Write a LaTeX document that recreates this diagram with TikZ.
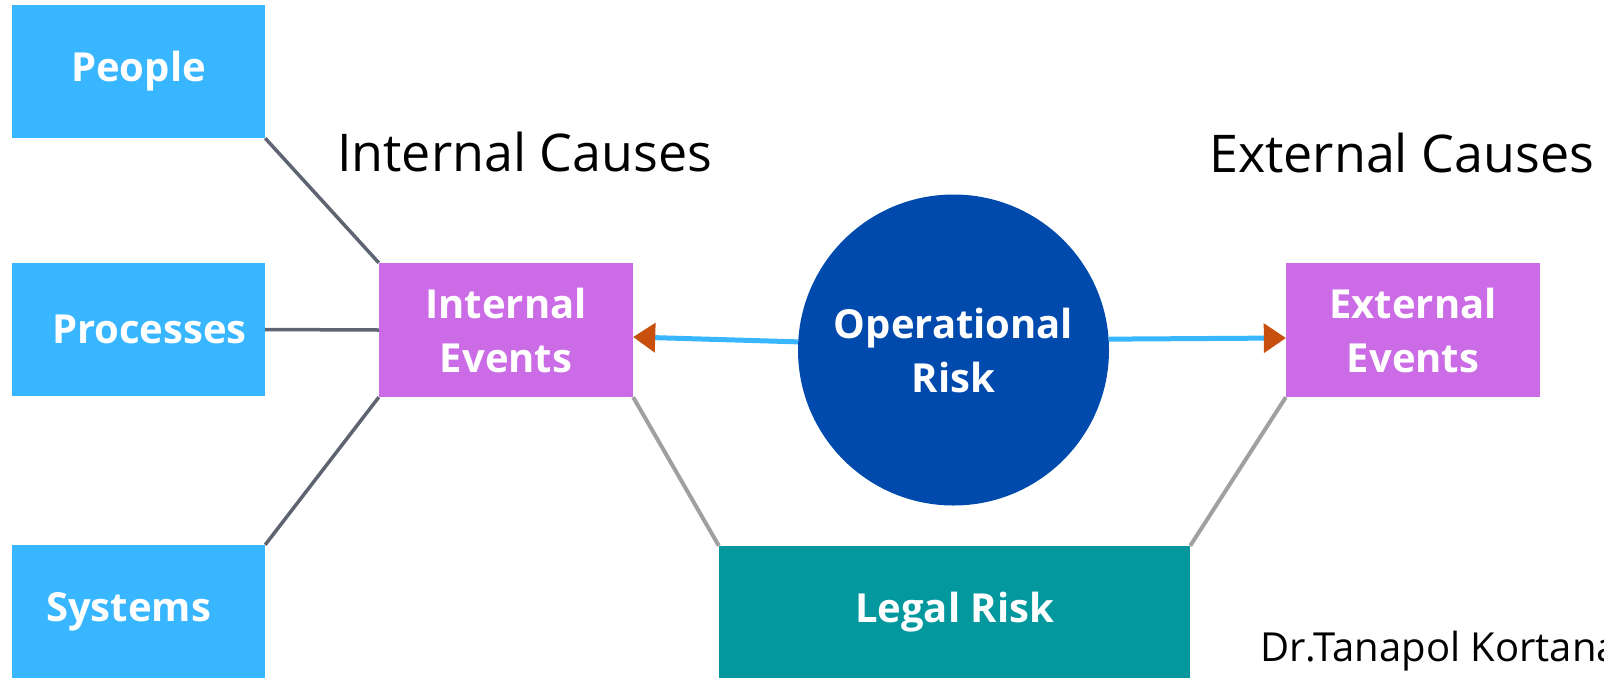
\documentclass[tikz,border=0pt]{standalone}
\usepackage{fontspec}
\setmainfont{Open Sans}
\usetikzlibrary{arrows.meta}
\definecolor{boxblue}{HTML}{38B6FF}
\definecolor{evpurple}{HTML}{CB6CE6}
\definecolor{risknavy}{HTML}{004AAD}
\definecolor{legalteal}{HTML}{03989E}
\definecolor{tipred}{HTML}{C8500F}
\definecolor{darkline}{HTML}{5E6472}
\definecolor{lightline}{HTML}{A0A0A0}
\begin{document}
\begin{tikzpicture}[x=1pt, y=-1pt, line join=round,
		>={Triangle[length=22pt, width=30pt, line width=0pt, color=tipred]},
		box/.style={rectangle, inner sep=0pt, text=white, font=\fontsize{40}{54}\selectfont\bfseries, align=center},
		causebox/.style={box, fill=boxblue, minimum width=253pt, minimum height=133pt},
		evbox/.style={box, fill=evpurple, minimum width=254pt, minimum height=134pt},
		heading/.style={anchor=base west, inner sep=0pt, font=\fontsize{52}{60}\selectfont},
		causeline/.style={darkline, line width=3.5pt},
		legalline/.style={lightline, line width=4pt},
		riskarrow/.style={->, boxblue, line width=5pt}]
			\useasboundingbox (0,0) rectangle (1604,681);
			\foreach \n/\y/\t/\dx in {people/71.5/People/0, proc/329.5/Processes/11, sys/611.5/Systems/-10}
			\node[causebox, label={[box, xshift=\dx pt]center:\t}] (\n) at (138.5,\y) {};
			\node[evbox] (intev) at (506,330) {Internal\\Events};
			\node[evbox] (extev) at (1413,330) {External\\Events};
			\node[box, circle, fill=risknavy, minimum size=311pt] (risk) at (953.5,350) {Operational\\Risk};
			\node[box, fill=legalteal, minimum width=471pt, minimum height=132pt] (legal) at (954.5,612) {Legal Risk};
			\node[heading] (intcause) at (337,171) {Internal Causes};
			\node[heading] (extcause) at (1209,172) {External Causes};
			\node[anchor=base west, inner sep=0pt, font=\fontsize{40}{48}\selectfont] (author) at (1260,661) {Dr.Tanapol Kortana};
			\foreach \n/\a/\b in {people/south east/north west, proc/east/west, sys/north east/south west}
			\draw[causeline] (\n.\a) -- (intev.\b);
			\draw[legalline] (intev.south east) -- (legal.north west)
			(extev.south west) -- (legal.north east);
			\draw[riskarrow] (risk.177) -- ([yshift=-7pt]intev.east);
			\draw[riskarrow] (risk.4) -- ([yshift=-8pt]extev.west);
		\end{tikzpicture}
\end{document}
